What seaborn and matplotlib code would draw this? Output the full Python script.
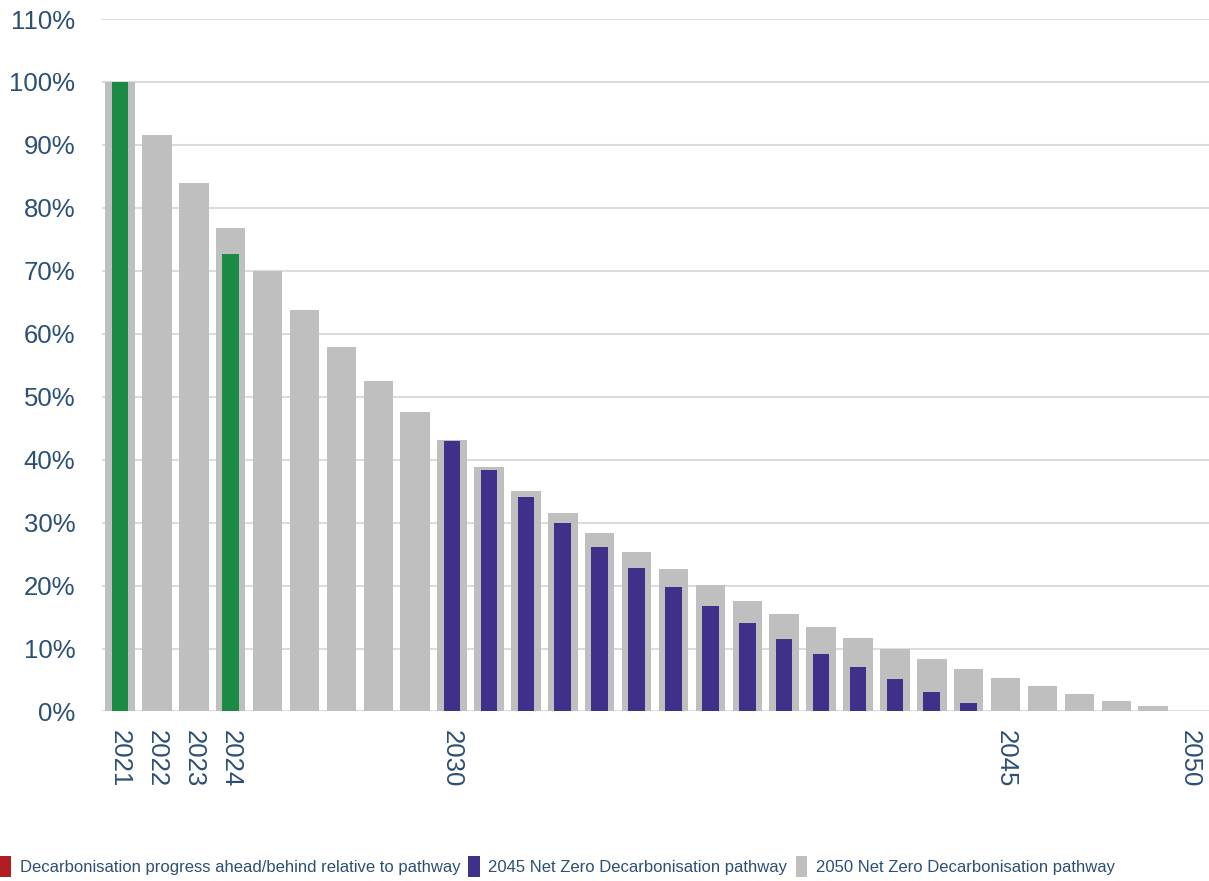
import matplotlib
matplotlib.use("Agg")
import matplotlib.pyplot as plt
from matplotlib.patches import Patch
import numpy as np
import pandas as pd
import seaborn as sns

# Emission pathways, % of 2021 baseline
years = list(range(2021, 2051))
pathway_2050 = [100, 91.6, 83.9, 76.8, 69.9, 63.7, 57.9, 52.5, 47.5, 43.2,
                38.8, 35.0, 31.5, 28.3, 25.4, 22.7, 20.1, 17.6, 15.5, 13.4,
                11.6, 9.9, 8.3, 6.7, 5.3, 4.1, 2.8, 1.6, 0.8, 0.0]
pathway_2045_years = list(range(2030, 2045))
pathway_2045 = [43.0, 38.3, 34.0, 30.0, 26.2, 22.8, 19.8, 16.8, 14.0, 11.5,
                9.1, 7.1, 5.1, 3.1, 1.4]
progress_years = [2021, 2024]
progress = [100, 72.6]

labelled_years = [2021, 2022, 2023, 2024, 2030, 2045, 2050]
y_ticks = list(range(0, 111, 10))

legend_labels = ["Decarbonisation progress ahead/behind relative to pathway",
                 "2045 Net Zero Decarbonisation pathway",
                 "2050 Net Zero Decarbonisation pathway"]

GREY = "#bfbfbf"
PURPLE = "#40308a"
GREEN = "#1b8a44"
RED = "#b01e23"
TEXT = "#2c4f74"
GRID = "#dcdcdc"

sns.set_style("white")
plt.rcParams["font.family"] = ["Liberation Sans", "DejaVu Sans"]

fig = plt.figure(figsize=(12.09, 8.81), dpi=100)
ax = fig.add_axes([0.0840, 0.1924, 0.9156, 0.7860])

order = [str(y) for y in years]
df50 = pd.DataFrame({"year": [str(y) for y in years], "value": pathway_2050})
df45 = pd.DataFrame({"year": [str(y) for y in pathway_2045_years], "value": pathway_2045})
dfp = pd.DataFrame({"year": [str(y) for y in progress_years], "value": progress})

sns.barplot(data=df50, x="year", y="value", order=order, color=GREY,
            saturation=1, width=0.8, errorbar=None, ax=ax, zorder=2)
sns.barplot(data=df45, x="year", y="value", order=order, color=PURPLE,
            saturation=1, width=0.45, errorbar=None, ax=ax, zorder=3)
sns.barplot(data=dfp, x="year", y="value", order=order, color=GREEN,
            saturation=1, width=0.45, errorbar=None, ax=ax, zorder=3)

for p in ax.patches:
    p.set_edgecolor("none")

ax.set_xlim(-0.5, len(years) - 0.5)
ax.set_ylim(0, 110)

# horizontal gridlines
for v in y_ticks:
    ax.axhline(v, color=GRID, lw=1.5, zorder=1)

for s in ax.spines.values():
    s.set_visible(False)

ax.set_yticks(y_ticks)
ax.set_yticklabels([f"{v}%" for v in y_ticks])
ax.tick_params(axis="y", length=0, pad=19, labelsize=18.5, labelcolor=TEXT)

pos = [years.index(y) for y in labelled_years]
ax.set_xticks(pos)
ax.set_xticklabels([str(y) for y in labelled_years], rotation=270,
                   ha="center", va="top")
ax.tick_params(axis="x", which="major", length=0, pad=13, labelsize=18.5,
               labelcolor=TEXT)
ax.set_xticks(np.arange(-0.5, len(years), 1), minor=True)
ax.tick_params(axis="x", which="minor", length=7, width=1, color=GRID)

ax.set_xlabel("")
ax.set_ylabel("")

handles = [Patch(facecolor=RED, edgecolor="none"),
           Patch(facecolor=PURPLE, edgecolor="none"),
           Patch(facecolor=GREY, edgecolor="none")]
fig.legend(handles, legend_labels, loc="lower left", bbox_to_anchor=(-0.0128, -0.013),
           ncol=3, frameon=False, fontsize=12, labelcolor=TEXT,
           handlelength=0.7, handleheight=1.6, handletextpad=0.5,
           columnspacing=0.5)

fig.savefig("out.png", dpi=100, facecolor="white")
